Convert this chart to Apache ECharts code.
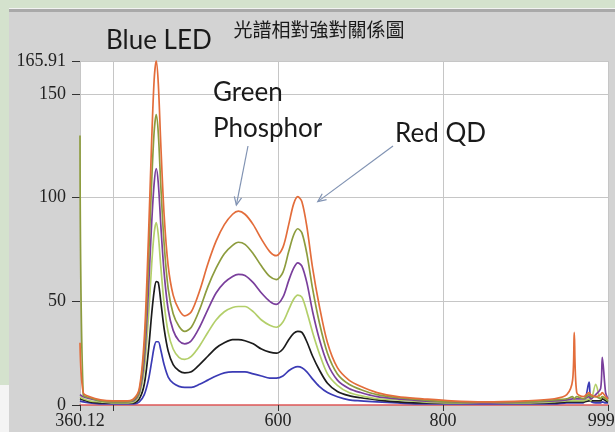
<!DOCTYPE html>
<html>
<head>
<meta charset="utf-8">
<script src="https://cdn.jsdelivr.net/npm/echarts@6/dist/echarts.min.js"></script>
<style>
  html, body { margin: 0; padding: 0; }
  body { width: 615px; height: 432px; position: relative; overflow: hidden; background: #d3d3d3; }
  .strip { position: absolute; }
  #chart { position: absolute; left: 0; top: 0; width: 615px; height: 432px; }
</style>
</head>
<body>
<div class="strip" style="left:0;top:0;width:615px;height:8px;background:#d4e2cd"></div>
<div class="strip" style="left:9px;top:8px;width:606px;height:1px;background:#f2f2f2"></div>
<div class="strip" style="left:9px;top:9px;width:606px;height:3px;background:#a9a9a9"></div>
<div class="strip" style="left:0;top:0;width:9px;height:385px;background:#d4e2cd"></div>
<div class="strip" style="left:0;top:385px;width:9px;height:47px;background:#f4f4f4"></div>
<div id="chart"></div>
<script>
// wavelength (nm) shared by every curve
const wavelengths = [
  360.12, 364, 372, 385, 400, 415, 425, 432, 438, 443,
  447, 450, 452.5, 455, 458, 462, 467, 473, 480, 487,
  495, 505, 515, 525, 535, 545, 552, 560, 570, 580,
  590, 598, 606, 613, 619, 624, 629, 635, 642, 650,
  660, 672, 686, 700, 720, 745, 775, 810, 850, 900,
  935, 950, 957, 959, 962, 970, 977, 979, 985, 991,
  993, 997, 999.9
];

// relative intensity, highest drive first
const orange = [
  30, 6, 4, 2.5, 2, 2, 3, 8, 32, 80,
  128, 157, 166, 155, 126, 92, 67, 53, 46, 43,
  45, 55, 68, 79, 87, 92, 93.5, 92, 87, 80,
  74, 72, 76, 87, 97, 100.5, 98, 86, 66, 48,
  30, 18, 12, 9, 6, 4, 3, 2, 1.5, 2,
  3, 5, 12, 35, 6, 4, 6, 5, 4, 5,
  6, 4, 3
];
const olive = [
  130, 5, 3.5, 2, 1.5, 1.5, 2.5, 7, 27, 68,
  108, 132, 140, 131, 106, 78, 56, 44, 38, 35.5,
  37.5, 46, 57, 66, 73, 77, 78.5, 77.5, 73, 67,
  62, 60.5, 64, 74, 82, 85, 83, 73, 56, 40,
  25, 15, 10, 7.5, 5, 3.5, 2.5, 1.5, 1.5, 1.5,
  2.5, 3, 4, 3, 4, 3, 5, 4, 4, 3,
  4, 3, 2
];
const purple = [
  5, 4, 3, 2, 1.5, 1.5, 2, 6, 22, 55,
  88, 107, 114, 107, 87, 64, 46, 36, 31, 29.5,
  31, 37.5, 46, 54, 59, 62, 63, 62.5, 59, 54,
  50, 48.5, 52, 60, 66, 68.5, 67, 59, 45, 32,
  20, 12, 8, 6, 4, 3, 2, 1.5, 1, 1.5,
  2, 2.5, 3, 3, 3, 3, 4, 3, 5, 8,
  23, 6, 3
];
const lime = [
  4, 3, 2, 1.5, 1, 1, 1.5, 5, 17, 42,
  68, 83, 88, 82, 67, 49, 35, 27, 23, 22,
  23.5, 28.5, 35, 41, 45, 47, 47.5, 47.5, 45, 41,
  38.5, 37.5, 40, 46, 51, 53, 52, 45, 35, 25,
  15, 9.5, 6, 4.5, 3, 2.5, 1.5, 1, 1, 1,
  1.5, 2, 2, 2, 2, 2, 3, 2, 10, 3,
  4, 3, 2
];
const black = [
  3, 2.5, 1.5, 1, 1, 1, 1, 3, 10, 26,
  44, 55, 59.5, 59, 50, 37, 26, 19.5, 16.5, 15.5,
  16, 19.5, 23.5, 27.5, 30, 31.5, 31.5, 31, 29.5, 27,
  25.5, 25, 27, 31.5, 34.5, 35.5, 35, 30.5, 23.5, 17,
  10.5, 6.5, 4.5, 3.5, 2.5, 1.5, 1, 1, 1, 1,
  1, 1.5, 1.5, 1.5, 1.5, 1.5, 2, 2, 2, 2,
  3, 2, 1.5
];
const blue = [
  2, 1.5, 1, 0.5, 0.5, 0.5, 0.5, 1.5, 5, 12,
  21, 28, 30.5, 30.5, 26.5, 19.5, 13.5, 10.5, 9, 8.5,
  8.5, 10, 12, 14, 15.5, 16, 16, 16, 15, 14,
  13, 13, 14, 16.5, 18, 18.5, 18, 16, 12.5, 9,
  6, 4, 2.5, 2, 1.5, 1, 0.5, 0.5, 0.5, 0.5,
  0.5, 1, 1, 1, 1, 1, 11, 2, 1, 1,
  1.5, 1, 1
];

const xLabelValues = [360.12, 600, 800, 999.9];
const xTickValues = [360.12, 400, 600, 800, 999.9];
const yMax = 165.91;

const greenPeak = [552, 93.5];
const redPeak = [624, 100.5];

const curves = [
  { name: "blue", values: blue, color: "#3b3bb5" },
  { name: "black", values: black, color: "#1c1c1c" },
  { name: "lime", values: lime, color: "#b3cf6a" },
  { name: "purple", values: purple, color: "#7a3f9c" },
  { name: "olive", values: olive, color: "#8d9c3e" },
  { name: "orange", values: orange, color: "#e36d3b" },
];

const serif = "'Liberation Serif', 'DejaVu Serif', serif";

const option = {
  animation: false,
  grid: {
    left: 80,
    right: 7,
    top: 61,
    bottom: 27,
    outerBoundsMode: "none",
    containLabel: false,
    show: true,
    backgroundColor: "#fff",
    borderWidth: 0,
  },
  xAxis: {
    type: "value",
    min: 360.12,
    max: 999.9,
    axisLine: { lineStyle: { color: "#e05a5a", width: 1.5 } },
    axisTick: {
      customValues: xTickValues,
      length: 6,
      lineStyle: { color: "#333" },
    },
    axisLabel: {
      customValues: xLabelValues,
      fontFamily: serif,
      fontSize: 18,
      color: "#222",
      margin: 7,
    },
    splitLine: { show: true, lineStyle: { color: "#c6c6c6" } },
  },
  yAxis: {
    type: "value",
    min: 0,
    max: yMax,
    interval: 50,
    axisLine: { show: false },
    axisTick: { show: true, length: 8, lineStyle: { color: "#333" } },
    axisLabel: {
      fontFamily: serif,
      fontSize: 18,
      color: "#222",
      margin: 14,
    },
    splitLine: { show: true, lineStyle: { color: "#c6c6c6" } },
  },
  series: curves.map((c) => ({
    type: "line",
    name: c.name,
    data: wavelengths.map((w, i) => [w, c.values[i]]),
    showSymbol: false,
    smooth: 0.3,
    silent: true,
    lineStyle: { color: c.color, width: 1.7 },
    itemStyle: { color: c.color },
  })),
};

const chart = echarts.init(document.getElementById("chart"));
chart.setOption(option);

// annotations
const arrowColor = "#8193b3";
function arrow(x1, y1, x2, y2) {
  const a = Math.atan2(y2 - y1, x2 - x1);
  const h = 9, w = 0.42;
  return [
    { type: "line", shape: { x1, y1, x2, y2 }, style: { stroke: arrowColor, lineWidth: 1.2 } },
    {
      type: "polyline",
      shape: {
        points: [
          [x2 - h * Math.cos(a - w), y2 - h * Math.sin(a - w)],
          [x2, y2],
          [x2 - h * Math.cos(a + w), y2 - h * Math.sin(a + w)],
        ],
      },
      style: { stroke: arrowColor, lineWidth: 1.2, fill: null },
    },
  ];
}
const gp = chart.convertToPixel({ seriesIndex: 0 }, greenPeak);
const rp = chart.convertToPixel({ seriesIndex: 0 }, redPeak);
const label = (text, x, y, size, family, align) => ({
  type: "text",
  x, y,
  style: {
    text,
    fontSize: size,
    fontFamily: family,
    fill: "#1a1a1a",
    align: align || "left",
    verticalAlign: "middle",
  },
});
const lato = "Lato, 'Open Sans', sans-serif";
chart.setOption({
  graphic: [
    label("光譜相對強對關係圖", 319, 30, 19, "'Noto Sans CJK TC', sans-serif", "center"),
    label("Blue LED", 106, 41, 26, lato),
    label("Green", 213, 93, 26, lato),
    label("Phosphor", 213, 129, 26, lato),
    label("Red QD", 395, 134, 26, lato),
    ...arrow(248, 146, gp[0] - 2, gp[1] - 6),
    ...arrow(393, 146, rp[0] + 20, rp[1] + 5),
  ],
});
</script>
</body>
</html>
